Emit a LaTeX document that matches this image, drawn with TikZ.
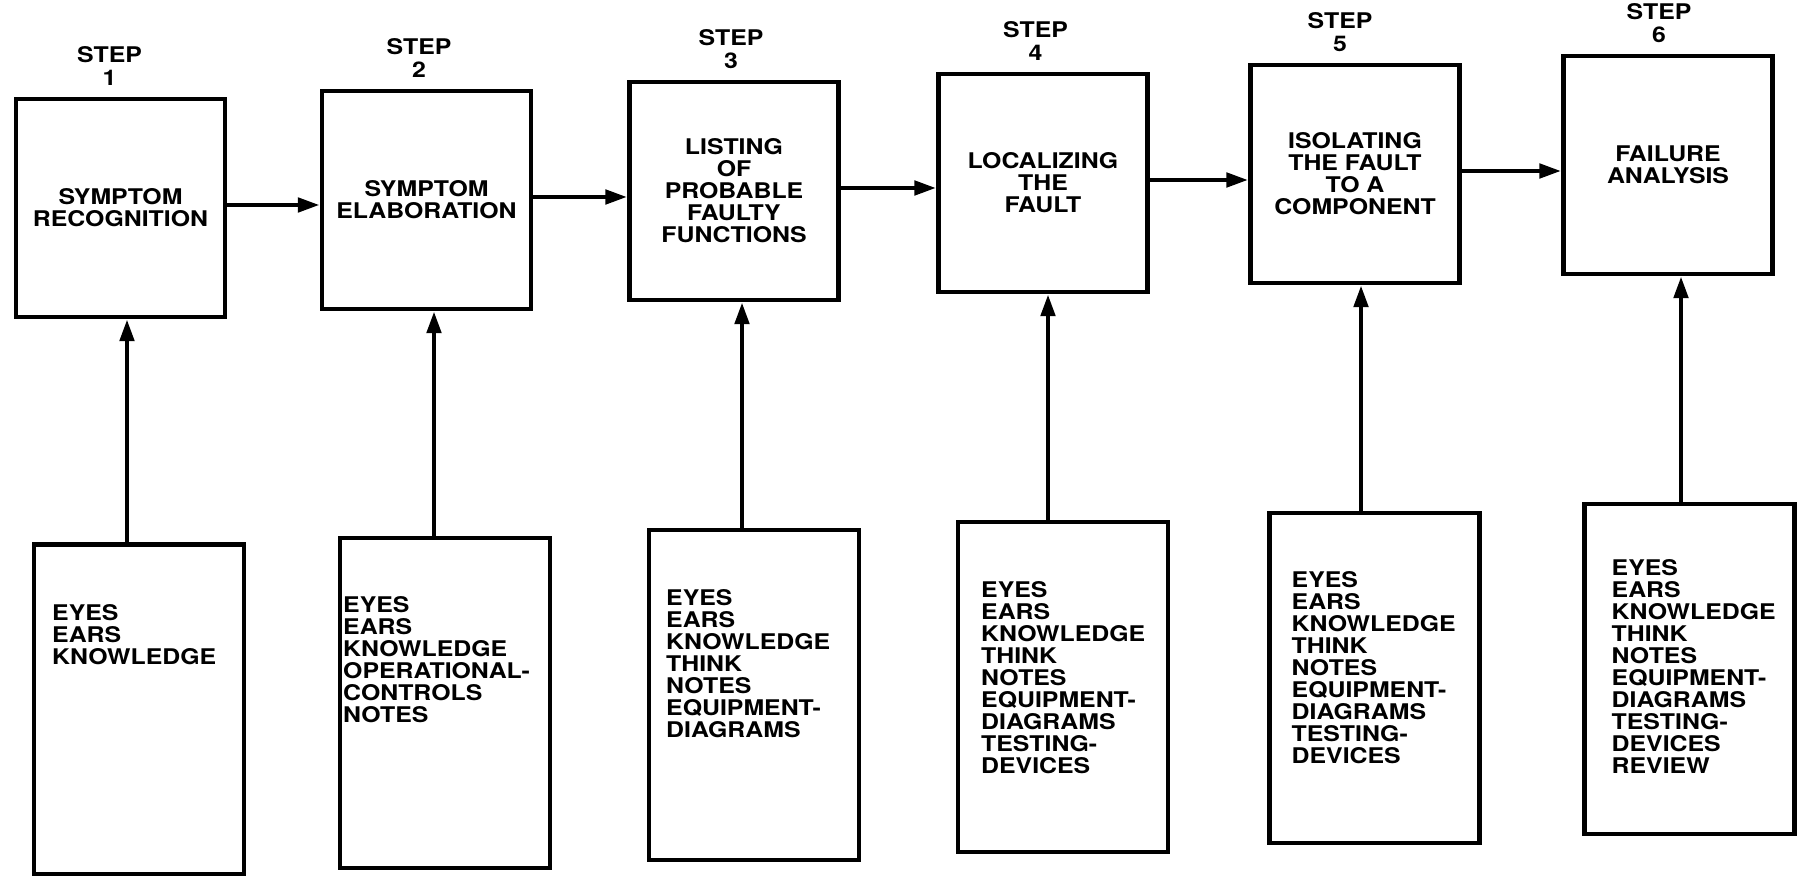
\documentclass[tikz,border=0pt]{standalone}
\usepackage{fontspec}
\setmainfont{TeX Gyre Heros}[FakeStretch=1.15]
\usetikzlibrary{arrows.meta,calc}
\begin{document}
\begin{tikzpicture}[x=0.5pt,y=-0.5pt,
  every node/.style={font=\bfseries\fontsize{10.8}{11}\selectfont},
  topbox/.style={draw,line width=2.2pt,minimum width=104.5pt,minimum height=109pt,align=center,inner sep=0pt},
  botbox/.style={draw,line width=2.2pt,minimum width=105pt,minimum height=165pt,inner sep=0pt},
  listtext/.style={align=left,inner sep=0pt,anchor=north west},
  steplabel/.style={align=center,inner sep=0pt,anchor=south,font=\bfseries\fontsize{10.8}{11.5}\selectfont},
  arr/.style={line width=2.4pt,-{Triangle[length=11pt,width=7pt]}}]
\useasboundingbox (0,0) rectangle (1808,876);

% top boxes
\node[topbox] (T1) at (120.5,208) {SYMPTOM\\RECOGNITION};
\node[topbox] (T2) at (426.5,200) {SYMPTOM\\ELABORATION};
\node[topbox] (T3) at (734,191) {LISTING\\OF\\PROBABLE\\FAULTY\\FUNCTIONS};
\node[topbox] (T4) at (1043,183) {LOCALIZING\\THE\\FAULT};
\node[topbox] (T5) at (1355,174) {ISOLATING\\THE FAULT\\TO A\\COMPONENT};
\node[topbox] (T6) at (1668,165) {FAILURE\\ANALYSIS};

% step labels
\node[steplabel] (S1) at ([xshift=-5.5pt,yshift=5.5pt]T1.north) {STEP\\1};
\node[steplabel] (S2) at ([xshift=-3.75pt,yshift=5.5pt]T2.north) {STEP\\2};
\node[steplabel] (S3) at ([xshift=-1.5pt,yshift=5.5pt]T3.north) {STEP\\3};
\node[steplabel] (S4) at ([xshift=-3.75pt,yshift=5.5pt]T4.north) {STEP\\4};
\node[steplabel] (S5) at ([xshift=-7.5pt,yshift=5.5pt]T5.north) {STEP\\5};
\node[steplabel] (S6) at ([xshift=-4.5pt,yshift=5.5pt]T6.north) {STEP\\6};

% bottom boxes
\node[botbox] (B1) at (139,709.5) {};
\node[botbox] (B2) at (445,703) {};
\node[botbox] (B3) at (754,695) {};
\node[botbox] (B4) at (1063,687) {};
\node[botbox] (B5) at (1374.5,678) {};
\node[botbox] (B6) at (1689.5,669) {};

% lists
\node[listtext] (L1) at ([xshift=10pt,yshift=-31pt]B1.north west) {EYES\\EARS\\KNOWLEDGE};
\node[listtext] (L2) at ([xshift=2.5pt,yshift=-30pt]B2.north west) {EYES\\EARS\\KNOWLEDGE\\OPERATIONAL-\\CONTROLS\\NOTES};
\node[listtext] (L3) at ([xshift=9.5pt,yshift=-30.5pt]B3.north west) {EYES\\EARS\\KNOWLEDGE\\THINK\\NOTES\\EQUIPMENT-\\DIAGRAMS};
\node[listtext] (L4) at ([xshift=12.5pt,yshift=-30.5pt]B4.north west) {EYES\\EARS\\KNOWLEDGE\\THINK\\NOTES\\EQUIPMENT-\\DIAGRAMS\\TESTING-\\DEVICES};
\node[listtext] (L5) at ([xshift=12pt,yshift=-30pt]B5.north west) {EYES\\EARS\\KNOWLEDGE\\THINK\\NOTES\\EQUIPMENT-\\DIAGRAMS\\TESTING-\\DEVICES};
\node[listtext] (L6) at ([xshift=14.5pt,yshift=-28.5pt]B6.north west) {EYES\\EARS\\KNOWLEDGE\\THINK\\NOTES\\EQUIPMENT-\\DIAGRAMS\\TESTING-\\DEVICES\\REVIEW};

% horizontal arrows
\draw[arr] ([yshift=1.5pt]T1.east) coordinate (h1) -- (h1 -| T2.west);
\draw[arr] ([yshift=1.5pt]T2.east) coordinate (h2) -- (h2 -| T3.west);
\draw[arr] ([yshift=1.5pt]T3.east) coordinate (h3) -- (h3 -| T4.west);
\draw[arr] ([yshift=1.5pt]T4.east) coordinate (h4) -- (h4 -| T5.west);
\draw[arr] ([yshift=1.5pt]T5.east) coordinate (h5) -- (h5 -| T6.west);

% vertical arrows
\draw[arr] ([xshift=-6pt]B1.north) coordinate (v1) -- (v1 |- T1.south);
\draw[arr] ([xshift=-5.5pt]B2.north) coordinate (v2) -- (v2 |- T2.south);
\draw[arr] ([xshift=-6pt]B3.north) coordinate (v3) -- (v3 |- T3.south);
\draw[arr] ([xshift=-7.5pt]B4.north) coordinate (v4) -- (v4 |- T4.south);
\draw[arr] ([xshift=-6.75pt]B5.north) coordinate (v5) -- (v5 |- T5.south);
\draw[arr] ([xshift=-4.25pt]B6.north) coordinate (v6) -- (v6 |- T6.south);
\end{tikzpicture}
\end{document}
